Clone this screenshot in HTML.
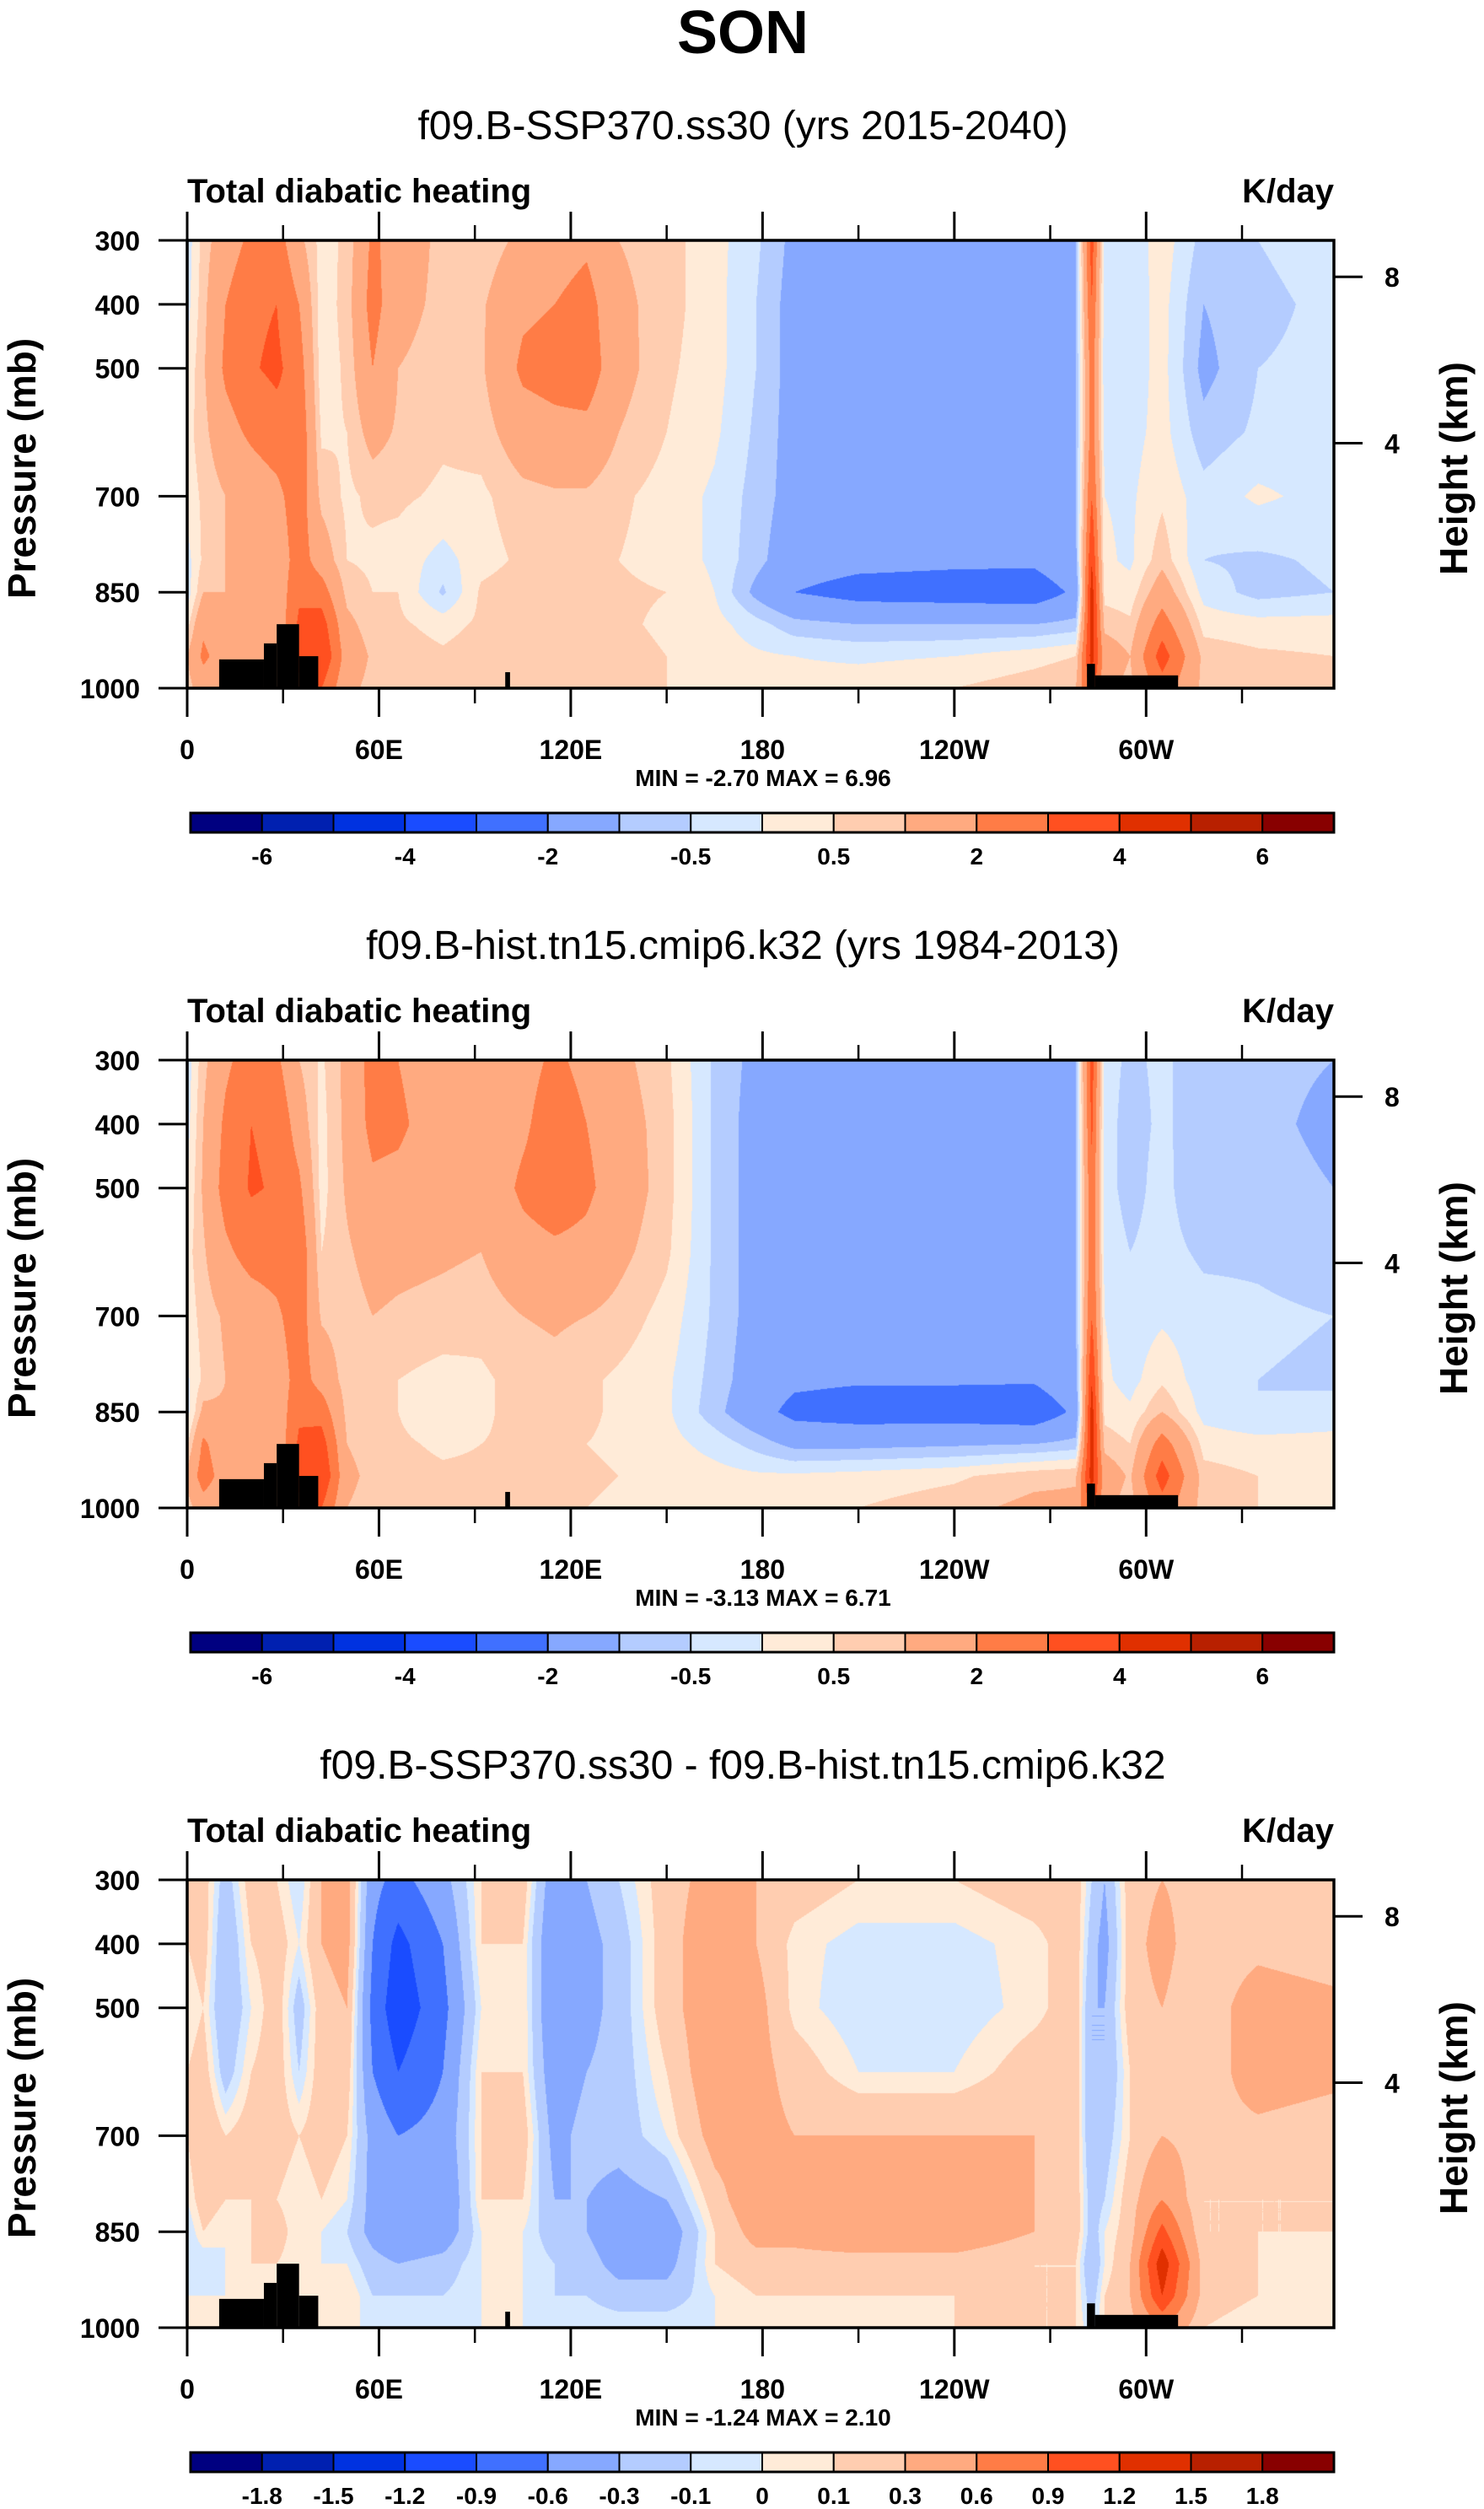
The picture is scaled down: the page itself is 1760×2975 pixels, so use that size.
<!DOCTYPE html>
<html><head><meta charset="utf-8">
<style>
html,body{margin:0;padding:0;background:#fff;}
#wrap{position:relative;width:1760px;height:2975px;overflow:hidden;font-family:"Liberation Sans",Arial,sans-serif;}
canvas{position:absolute;}
svg{position:absolute;left:0;top:0;}
</style></head>
<body>
<div id="wrap">
<canvas id="c0"></canvas>
<canvas id="c1"></canvas>
<canvas id="c2"></canvas>
<svg id="s" width="1760" height="2975"></svg>
</div>
<script>
const lons=[0,5,12,20,28,35,42,50,58,66,80,92,105,115,125,135,150,165,178,190,210,240,265,278,283,287,295,305,318,335,358.75];
const plev=[300,400,500,600,700,800,850,900,950,1000];
const field1=[
[-0.3,0.7,1.5,2.2,2.5,1.2,0.3,0.6,2.2,1.5,0.8,0.6,1.2,1.5,1.8,1.0,0.7,0.2,-0.4,-1.2,-1.5,-1.5,-1.4,-1.0,3.5,-0.3,-0.4,0.3,-0.7,-0.5,-0.3],
[-0.2,0.8,2.0,2.8,3.0,2.0,0.2,0.7,2.4,1.3,0.8,0.9,1.8,2.0,2.4,1.2,0.7,0.2,-0.5,-1.3,-1.5,-1.5,-1.5,-1.0,3.0,-0.3,-0.3,0.2,-1.0,-0.6,-0.4],
[0.1,0.9,2.2,2.9,3.2,2.5,0.2,0.6,2.0,1.0,0.7,0.9,2.2,2.4,2.6,1.3,0.6,0.2,-0.5,-1.3,-1.5,-1.5,-1.5,-1.0,2.5,-0.3,-0.3,0.2,-1.2,-0.5,-0.4],
[0.3,0.8,1.6,2.2,2.6,2.8,0.4,0.5,1.3,0.9,0.6,0.7,1.5,1.7,1.7,1.0,0.5,0.1,-0.6,-1.3,-1.5,-1.5,-1.5,-1.0,2.5,-0.2,-0.2,0.2,-0.8,-0.4,-0.3],
[0.2,0.6,1.0,1.3,1.7,2.6,0.8,0.4,0.6,0.6,0.4,0.4,0.8,0.9,0.9,0.6,0.3,-0.1,-0.7,-1.3,-1.5,-1.5,-1.5,-1.0,3.0,0.0,-0.1,0.4,-0.3,0.1,-0.2],
[-0.2,0.6,1.0,1.1,1.3,2.5,1.5,0.5,0.4,0.3,-0.2,0.3,0.6,0.7,0.6,0.5,0.3,-0.1,-0.8,-1.5,-1.7,-1.8,-1.8,-1.2,4.0,0.1,-0.1,0.8,-0.5,-0.6,-0.4],
[-0.3,1.0,1.0,1.0,1.3,2.8,2.5,0.8,0.5,0.5,-0.6,0.6,0.8,0.8,0.8,0.6,0.5,0.0,-1.2,-2.0,-2.4,-2.5,-2.6,-1.8,4.5,0.3,0.2,1.5,-0.2,-0.7,-0.5],
[0.3,1.8,1.2,1.0,1.2,3.2,3.5,1.2,0.7,0.6,0.3,0.6,0.8,0.8,0.7,0.6,0.4,0.2,-0.3,-0.8,-1.0,-1.0,-1.0,-0.8,4.5,0.8,0.6,2.5,0.3,0.2,0.2],
[1.0,2.2,1.5,1.2,1.4,3.5,4.0,1.5,0.9,0.8,0.6,0.8,1.0,0.9,0.8,0.7,0.5,0.3,0.1,0.0,-0.1,0.0,0.3,0.5,4.5,1.5,1.0,3.5,0.8,0.6,0.5],
[0.7,1.5,1.3,1.0,1.2,2.5,3.0,1.2,0.8,0.7,0.6,0.7,0.8,0.8,0.7,0.6,0.5,0.3,0.2,0.2,0.3,0.5,0.8,1.0,3.5,1.2,0.8,2.5,0.8,0.6,0.5]];
const field2=[
[-0.3,0.8,1.8,2.5,2.2,1.0,0.4,1.2,2.4,2.0,1.3,1.3,1.6,2.2,1.7,1.2,0.6,-0.6,-1.2,-1.5,-1.5,-1.5,-1.4,-1.0,3.5,-0.3,-0.6,-0.4,-0.8,-0.8,-1.0],
[-0.2,1.0,2.2,3.0,2.8,1.5,0.3,1.2,2.3,2.2,1.4,1.3,1.8,2.6,2.0,1.4,0.7,-0.6,-1.3,-1.5,-1.5,-1.5,-1.5,-1.0,3.2,-0.3,-0.7,-0.4,-0.8,-0.8,-1.2],
[0.0,1.1,2.4,3.1,2.9,2.2,0.3,1.1,1.8,1.7,1.3,1.2,2.2,2.6,2.2,1.5,0.7,-0.6,-1.3,-1.5,-1.5,-1.5,-1.5,-1.0,2.8,-0.3,-0.7,-0.3,-1.0,-0.7,-1.0],
[0.3,0.9,1.8,2.4,2.5,2.8,0.5,0.9,1.3,1.2,1.1,1.0,1.6,1.8,1.7,1.2,0.6,-0.6,-1.3,-1.5,-1.5,-1.5,-1.5,-1.0,2.8,-0.2,-0.5,-0.3,-0.6,-0.6,-0.8],
[0.2,0.7,1.1,1.4,1.8,2.6,0.9,0.7,1.0,0.9,0.8,0.7,1.0,1.1,1.0,0.8,0.3,-0.6,-1.3,-1.5,-1.5,-1.5,-1.5,-1.0,3.0,0.0,-0.3,-0.1,-0.3,-0.4,-0.5],
[-0.1,0.6,1.0,1.1,1.3,2.5,1.6,0.7,0.6,0.5,0.3,0.4,0.7,0.8,0.6,0.4,0.1,-0.7,-1.4,-1.8,-1.9,-1.9,-1.9,-1.3,4.0,0.1,-0.2,0.4,-0.3,-0.5,-0.6],
[-0.2,1.2,1.1,1.0,1.3,2.8,2.6,0.8,0.6,0.5,0.0,0.4,0.7,0.7,0.6,0.4,0.1,-0.8,-1.6,-2.3,-2.5,-2.5,-2.7,-1.8,4.5,0.3,0.1,1.0,-0.2,-0.5,-0.3],
[0.4,2.2,1.3,1.0,1.2,3.2,3.5,1.0,0.7,0.6,0.4,0.5,0.6,0.6,0.5,0.4,0.2,-0.2,-0.7,-1.2,-1.2,-1.1,-1.0,-0.8,4.5,0.8,0.5,2.5,0.3,0.2,0.2],
[1.2,2.5,1.5,1.2,1.4,3.5,4.0,1.2,0.8,0.7,0.6,0.6,0.7,0.7,0.6,0.5,0.3,0.2,0.1,0.1,0.2,0.4,0.8,0.9,4.5,1.5,0.9,3.5,0.7,0.5,0.4],
[0.7,1.5,1.3,1.0,1.2,2.5,3.0,1.0,0.7,0.6,0.5,0.5,0.6,0.6,0.5,0.4,0.3,0.2,0.2,0.3,0.5,0.8,1.2,1.2,3.5,1.2,0.7,2.5,0.7,0.5,0.4]];
const field3=[
[0.1,0.2,-0.2,0.2,0.1,-0.1,0.3,0.4,-0.5,-0.7,-0.4,0.1,0.2,-0.5,-0.3,-0.1,0.2,0.4,0.3,0.2,0.1,0.1,0.2,0.2,-0.1,-0.3,0.2,0.3,0.2,0.2,0.1],
[0.1,0.2,-0.3,0.1,0.2,0.0,0.3,0.4,-0.6,-1.0,-0.6,0.1,0.1,-0.6,-0.4,-0.2,0.2,0.5,0.3,0.05,-0.05,-0.05,0.05,0.2,-0.2,-0.4,0.2,0.4,0.1,0.2,0.1],
[0.0,0.1,-0.3,0.0,0.2,-0.2,0.2,0.3,-0.7,-1.1,-0.7,0.0,0.1,-0.6,-0.4,-0.2,0.2,0.5,0.4,0.05,-0.08,-0.08,0.05,0.2,-0.3,-0.3,0.2,0.3,0.1,0.5,0.4],
[0.1,0.2,-0.2,0.1,0.2,-0.1,0.2,0.2,-0.6,-0.9,-0.6,0.1,0.1,-0.5,-0.3,-0.2,0.1,0.5,0.4,0.2,0.0,0.0,0.2,0.2,-0.3,-0.3,0.1,0.2,0.1,0.5,0.4],
[0.1,0.3,0.1,0.2,0.2,0.1,0.2,0.1,-0.4,-0.6,-0.5,0.1,0.2,-0.4,-0.2,-0.2,0.0,0.4,0.4,0.3,0.3,0.3,0.3,0.2,-0.3,-0.2,0.1,0.3,0.2,0.2,0.1],
[0.0,0.2,0.1,0.1,0.1,0.0,0.1,0.0,-0.4,-0.6,-0.6,0.1,0.1,-0.3,-0.3,-0.4,-0.3,0.2,0.5,0.4,0.4,0.4,0.3,0.2,-0.2,-0.1,0.2,0.6,0.1,0.1,0.1],
[-0.1,0.1,0.0,0.1,0.2,0.0,0.0,-0.1,-0.4,-0.6,-0.5,0.0,0.0,-0.2,-0.3,-0.5,-0.5,0.1,0.4,0.4,0.5,0.5,0.3,0.2,-0.2,0.0,0.2,1.0,0.1,0.1,0.1],
[-0.1,-0.1,0.0,0.1,0.1,0.0,0.0,0.0,-0.2,-0.3,-0.2,0.0,0.0,-0.1,-0.2,-0.4,-0.4,0.1,0.2,0.2,0.2,0.2,0.1,0.1,-0.3,0.0,0.3,1.4,0.2,0.1,0.0],
[0.0,0.0,0.0,0.0,0.1,0.1,0.0,0.1,-0.1,-0.1,-0.1,0.0,0.0,-0.1,-0.1,-0.2,-0.2,0.0,0.1,0.1,0.1,0.1,0.1,0.1,-0.2,0.1,0.3,1.2,0.2,0.1,0.0],
[0.0,0.0,0.0,0.0,0.0,0.0,0.0,0.0,0.0,0.0,0.0,0.0,0.0,0.0,0.0,0.0,0.0,0.0,0.0,0.0,0.0,0.1,0.1,0.1,-0.1,0.1,0.2,0.6,0.1,0.0,0.0]];
const levelsAbs=[-6,-5,-4,-3,-2,-1,-0.5,0,0.5,1,2,3,4,5,6];
const levelsDiff=[-1.8,-1.5,-1.2,-0.9,-0.6,-0.3,-0.1,0,0.1,0.3,0.6,0.9,1.2,1.5,1.8];
const labelsAbs=['-6','','-4','','-2','','-0.5','','0.5','','2','','4','','6'];
const labelsDiff=['-1.8','-1.5','-1.2','-0.9','-0.6','-0.3','-0.1','0','0.1','0.3','0.6','0.9','1.2','1.5','1.8'];
const palette=['#000080','#0020b0','#0032e0','#1a4cff','#4070ff','#86a8ff','#b4ccff','#d6e8ff','#ffebd8','#ffcdb0','#ffaa80','#ff7c46','#ff5020','#e03000','#b82000','#880000'];
const xTickLon=[0,60,120,180,240,300];
const xTickLab=['0','60E','120E','180','120W','60W'];
const xMinorLon=[30,90,150,210,270,330];
const yTickP=[300,400,500,700,850,1000];
const hTickP=[357,617];
const hTickLab=['8','4'];
const topo=[[10,24,955],[24,28,930],[28,35,900],[35,41,950],[99.5,101,975],[281.5,284,962],[284,310,980]];
const titles=['f09.B-SSP370.ss30 (yrs 2015-2040)','f09.B-hist.tn15.cmip6.k32 (yrs 1984-2013)','f09.B-SSP370.ss30 - f09.B-hist.tn15.cmip6.k32'];
const minmax=['MIN =  -2.70  MAX =   6.96','MIN =  -3.13  MAX =   6.71','MIN =  -1.24  MAX =   2.10'];

const NS='http://www.w3.org/2000/svg';
const svg=document.getElementById('s');
const L=222,W=1360,T0=285,H=531,DY=972,LONMAX=358.75;
const MAJ=34,MIN=18;
function xOf(lon){return L+lon/LONMAX*W;}
function yOf(p,t){return t+(p-300)/700*H;}
function mk(tag,attrs,parent){const e=document.createElementNS(NS,tag);for(const k in attrs)e.setAttribute(k,attrs[k]);(parent||svg).appendChild(e);return e;}
function txt(x,y,s,size,anchor,bold,parent){const e=mk('text',{x:x,y:y,'font-size':size,'text-anchor':anchor,'font-weight':bold?'bold':'normal','font-family':'Liberation Sans, Arial, sans-serif',fill:'#000'},parent);e.textContent=s;return e;}
function findIdx(arr,v){let i=0;while(i<arr.length-2&&v>arr[i+1])i++;return i;}
function hexRgb(h){return [parseInt(h.substr(1,2),16),parseInt(h.substr(3,2),16),parseInt(h.substr(5,2),16)];}
const palRgb=palette.map(hexRgb);

const t=txt(881,63,'SON',72,'middle',true);



const fields=[field1,field2,field3];
for(let k=0;k<3;k++){
  const top=T0+k*DY;
  const field=fields[k];
  const levels=k<2?levelsAbs:levelsDiff;
  const labs=k<2?labelsAbs:labelsDiff;
  const cv=document.getElementById('c'+k);
  cv.width=W;cv.height=H;cv.style.left=L+'px';cv.style.top=top+'px';
  const ctx=cv.getContext('2d');const img=ctx.createImageData(W,H);
  const xi=[],xf=[];
  for(let px=0;px<W;px++){const lon=(px+0.5)/W*LONMAX;const i=findIdx(lons,lon);xi.push(i);xf.push(Math.min(1,Math.max(0,(lon-lons[i])/(lons[i+1]-lons[i]))));}
  for(let py=0;py<H;py++){
    const p=300+(py+0.5)/H*700;const j=findIdx(plev,p);const fy=Math.min(1,Math.max(0,(p-plev[j])/(plev[j+1]-plev[j])));
    const r0=field[j],r1=field[j+1];
    for(let px=0;px<W;px++){
      const i=xi[px],fx=xf[px];
      const a=r0[i]*(1-fx)+r0[i+1]*fx,b=r1[i]*(1-fx)+r1[i+1]*fx;
      const v=a*(1-fy)+b*fy;
      let c=0;while(c<levels.length&&v>=levels[c])c++;
      const col=palRgb[c];const o=(py*W+px)*4;
      img.data[o]=col[0];img.data[o+1]=col[1];img.data[o+2]=col[2];img.data[o+3]=255;
    }
  }
  ctx.putImageData(img,0,0);
  const g=mk('g',{});
  
  
  topo.forEach(s=>{
    const r=mk('rect',{x:xOf(s[0]),y:yOf(s[2],top),width:xOf(s[1])-xOf(s[0]),height:yOf(1000,top)-yOf(s[2],top),fill:'#000'},g);
    
    
  });
  const fr=mk('rect',{x:L,y:top,width:W,height:H,fill:'none',stroke:'#000','stroke-width':3.5},g);
  
  
  xTickLon.forEach((lon,i)=>{
    const x=xOf(lon);
    mk('line',{x1:x,x2:x,y1:top,y2:top-MAJ,stroke:'#000','stroke-width':3},g);
    mk('line',{x1:x,x2:x,y1:top+H,y2:top+H+MAJ,stroke:'#000','stroke-width':3},g);
    const tl=txt(x,top+H+84,xTickLab[i],32,'middle',true,g);
    
    
  });
  xMinorLon.forEach(lon=>{
    const x=xOf(lon);
    mk('line',{x1:x,x2:x,y1:top,y2:top-MIN,stroke:'#000','stroke-width':2.5},g);
    mk('line',{x1:x,x2:x,y1:top+H,y2:top+H+MIN,stroke:'#000','stroke-width':2.5},g);
  });
  yTickP.forEach(p=>{
    const y=yOf(p,top);
    mk('line',{x1:L,x2:L-MAJ,y1:y,y2:y,stroke:'#000','stroke-width':3},g);
    const tl=txt(L-56,y+12,String(p),32,'end',true,g);
    
    
  });
  hTickP.forEach((p,i)=>{
    const y=yOf(p,top);
    mk('line',{x1:L+W,x2:L+W+MAJ,y1:y,y2:y,stroke:'#000','stroke-width':3},g);
    const tl=txt(L+W+60,y+12,hTickLab[i],32,'start',true,g);
    
    
  });
  const st=txt(881,top-120,titles[k],48,'middle',false,g);
  
  
  const lt=txt(L,top-45,'Total diabatic heating',40,'start',true,g);
  
  
  const ut=txt(L+W,top-45,'K/day',40,'end',true,g);
  
  
  const cy=top+H/2+5;
  const yt=txt(0,0,'Pressure (mb)',46,'middle',true,g);
  yt.setAttribute('transform','translate(42,'+cy+') rotate(-90)');
  
  
  const ht=txt(0,0,'Height (km)',46,'middle',true,g);
  ht.setAttribute('transform','translate(1740,'+cy+') rotate(-90)');
  
  
  const mm=txt(905,top+H+116,minmax[k],28,'middle',true,g);
  
  
  const cbT=top+679,cbH=23,cbL=226,cbW=1356,bw=cbW/palette.length;
  const cb=mk('g',{},g);
  
  
  palette.forEach((c,i)=>{
    const r=mk('rect',{x:cbL+i*bw,y:cbT,width:bw,height:cbH,fill:c,stroke:'#000','stroke-width':2},cb);
    
    
  });
  mk('rect',{x:cbL,y:cbT,width:cbW,height:cbH,fill:'none',stroke:'#000','stroke-width':3},cb);
  labs.forEach((s,i)=>{
    if(!s)return;
    const tl=txt(cbL+(i+1)*bw,cbT+cbH+38,s,28,'middle',true,cb);
    
    
  });
}
</script>
</body></html>
